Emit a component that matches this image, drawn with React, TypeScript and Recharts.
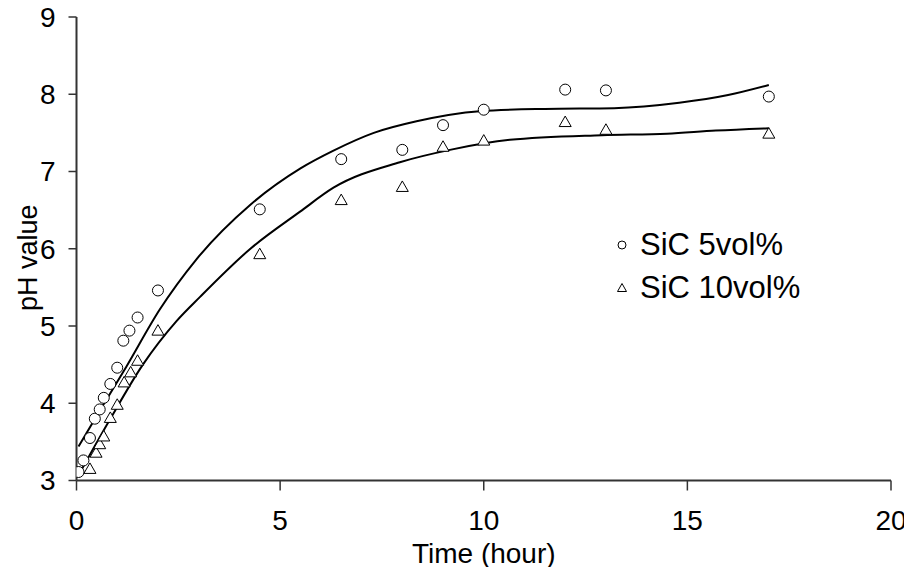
import React from "react";
import {
  ComposedChart,
  Scatter,
  Line,
  XAxis,
  YAxis,
} from "recharts";

// measured points
const time5 = [0.05, 0.17, 0.33, 0.45, 0.57, 0.67, 0.83, 1.0, 1.15, 1.3, 1.5, 2.0, 4.5, 6.5, 8.0, 9.0, 10.0, 12.0, 13.0, 17.0];
const ph5 = [3.11, 3.26, 3.55, 3.8, 3.92, 4.07, 4.25, 4.46, 4.81, 4.94, 5.11, 5.46, 6.51, 7.16, 7.28, 7.6, 7.8, 8.06, 8.05, 7.97];
const time10 = [0.33, 0.48, 0.57, 0.67, 0.83, 1.0, 1.17, 1.33, 1.5, 2.0, 4.5, 6.5, 8.0, 9.0, 10.0, 12.0, 13.0, 17.0];
const ph10 = [3.15, 3.36, 3.47, 3.57, 3.81, 3.98, 4.27, 4.4, 4.55, 4.94, 5.93, 6.63, 6.8, 7.32, 7.4, 7.64, 7.54, 7.49];

// fitted curves
const fitTime5 = [0.05, 0.6, 1.22, 2.04, 2.94, 4.27, 5.5, 6.31, 7.3, 8.35, 9.9, 11.5, 13.2, 14.8, 16, 17];
const fitPh5 = [3.44, 3.93, 4.47, 5.21, 5.86, 6.57, 7.04, 7.27, 7.5, 7.65, 7.78, 7.81, 7.82, 7.89, 7.99, 8.12];
const fitTime10 = [0.05, 0.81, 1.63, 2.45, 3.04, 4.27, 5.49, 6.31, 7.94, 9.17, 10.64, 12.9, 14.5, 15.7, 17];
const fitPh10 = [3.07, 3.78, 4.5, 5.06, 5.38, 6.0, 6.48, 6.79, 7.12, 7.28, 7.41, 7.47, 7.49, 7.53, 7.56];

const xTicks = [0, 5, 10, 15, 20];
const yTicks = [3, 4, 5, 6, 7, 8, 9];
const seriesNames = ["SiC 5vol%", "SiC 10vol%"];

const zip = (xs: number[], ys: number[]) => xs.map((x, i) => ({ x, y: ys[i] }));

const data5 = zip(time5, ph5);
const data10 = zip(time10, ph10);
const fit5 = zip(fitTime5, fitPh5);
const fit10 = zip(fitTime10, fitPh10);

const FONT = "'Liberation Sans', Arial, sans-serif";

interface ShapeProps {
  cx?: number;
  cy?: number;
}

const CircleShape = ({ cx = 0, cy = 0 }: ShapeProps) => (
  <circle cx={cx} cy={cy} r={5.5} fill="#fff" stroke="#000" strokeWidth={1} />
);

const TriangleShape = ({ cx = 0, cy = 0 }: ShapeProps) => (
  <polygon
    points={`${cx},${cy - 6} ${cx - 6},${cy + 4.5} ${cx + 6},${cy + 4.5}`}
    fill="#fff"
    stroke="#000"
    strokeWidth={1}
  />
);

// legend sits over the plot, like in the original figure
const LegendBox = () => (
  <div
    style={{
      position: "absolute",
      left: 614,
      top: 223,
      fontFamily: FONT,
      fontSize: 31,
      color: "#000",
    }}
  >
    {seriesNames.map((name, i) => (
      <div key={name} style={{ display: "flex", alignItems: "center", height: 43 }}>
        <svg width={16} height={16} style={{ marginRight: 10 }}>
          {i === 0 ? (
            <circle cx={8} cy={8} r={4} fill="none" stroke="#000" strokeWidth={1} />
          ) : (
            <polygon points="8,3.5 3.5,11.5 12.5,11.5" fill="none" stroke="#000" strokeWidth={1} />
          )}
        </svg>
        <span>{name}</span>
      </div>
    ))}
  </div>
);

// eslint-disable-next-line @typescript-eslint/no-explicit-any
const XTitle = (props: any) => {
  const vb = props.viewBox || { x: 76.5, y: 480.5, width: 814.5 };
  return (
    <text
      x={vb.x + vb.width / 2}
      y={vb.y + 82}
      textAnchor="middle"
      fontFamily={FONT}
      fontSize={28}
      fill="#000"
    >
      Time (hour)
    </text>
  );
};

// eslint-disable-next-line @typescript-eslint/no-explicit-any
const YTitle = (props: any) => {
  const vb = props.viewBox || { x: 16.5, y: 17, height: 463.5 };
  const x = vb.x + 11.5;
  const y = vb.y + vb.height / 2 + 9;
  return (
    <text
      x={x}
      y={y}
      transform={`rotate(-90, ${x}, ${y})`}
      textAnchor="middle"
      dominantBaseline="central"
      fontFamily={FONT}
      fontSize={27}
      fill="#000"
    >
      pH value
    </text>
  );
};

const tickStyle = { fontFamily: FONT, fontSize: 28, fill: "#000" };

export default function App() {
  // negative margin cancels the body margin so the chart fills the window
  return (
    <div style={{ position: "relative", width: 912, height: 575, margin: -8, overflow: "hidden" }}>
      <ComposedChart
        width={912}
        height={575}
        style={{ overflow: "visible" }}
        margin={{ top: 17, right: 21, left: 16.5, bottom: 34.5 }}
      >
        <XAxis
          dataKey="x"
          type="number"
          domain={[0, 20]}
          ticks={xTicks}
          allowDataOverflow
          height={60}
          tick={tickStyle}
          tickSize={10}
          tickMargin={20}
          axisLine={{ stroke: "#333", strokeWidth: 2 }}
          tickLine={{ stroke: "#333", strokeWidth: 1.5 }}
          label={<XTitle />}
        />
        <XAxis
          xAxisId="top"
          orientation="top"
          type="number"
          domain={[0, 20]}
          height={0}
          tick={false}
          tickLine={false}
          axisLine={{ stroke: "#666", strokeWidth: 1.5 }}
        />
        <YAxis
          dataKey="y"
          type="number"
          domain={[3, 9]}
          ticks={yTicks}
          allowDataOverflow
          width={60}
          tick={tickStyle}
          tickSize={8}
          tickMargin={13}
          axisLine={{ stroke: "#333", strokeWidth: 2 }}
          tickLine={{ stroke: "#333", strokeWidth: 1.5 }}
          label={<YTitle />}
        />
        <YAxis
          yAxisId="right"
          orientation="right"
          type="number"
          domain={[3, 9]}
          width={0}
          tick={false}
          tickLine={false}
          axisLine={{ stroke: "#666", strokeWidth: 1.5 }}
        />
        <Line
          data={fit5}
          dataKey="y"
          type="monotone"
          stroke="#000"
          strokeWidth={2}
          dot={false}
          activeDot={false}
          isAnimationActive={false}
        />
        <Line
          data={fit10}
          dataKey="y"
          type="monotone"
          stroke="#000"
          strokeWidth={2}
          dot={false}
          activeDot={false}
          isAnimationActive={false}
        />
        <Scatter
          name={seriesNames[0]}
          data={data5}
          dataKey="y"
          shape={(p: unknown) => <CircleShape {...(p as ShapeProps)} />}
          isAnimationActive={false}
        />
        <Scatter
          name={seriesNames[1]}
          data={data10}
          dataKey="y"
          shape={(p: unknown) => <TriangleShape {...(p as ShapeProps)} />}
          isAnimationActive={false}
        />
      </ComposedChart>
      <LegendBox />
    </div>
  );
}
